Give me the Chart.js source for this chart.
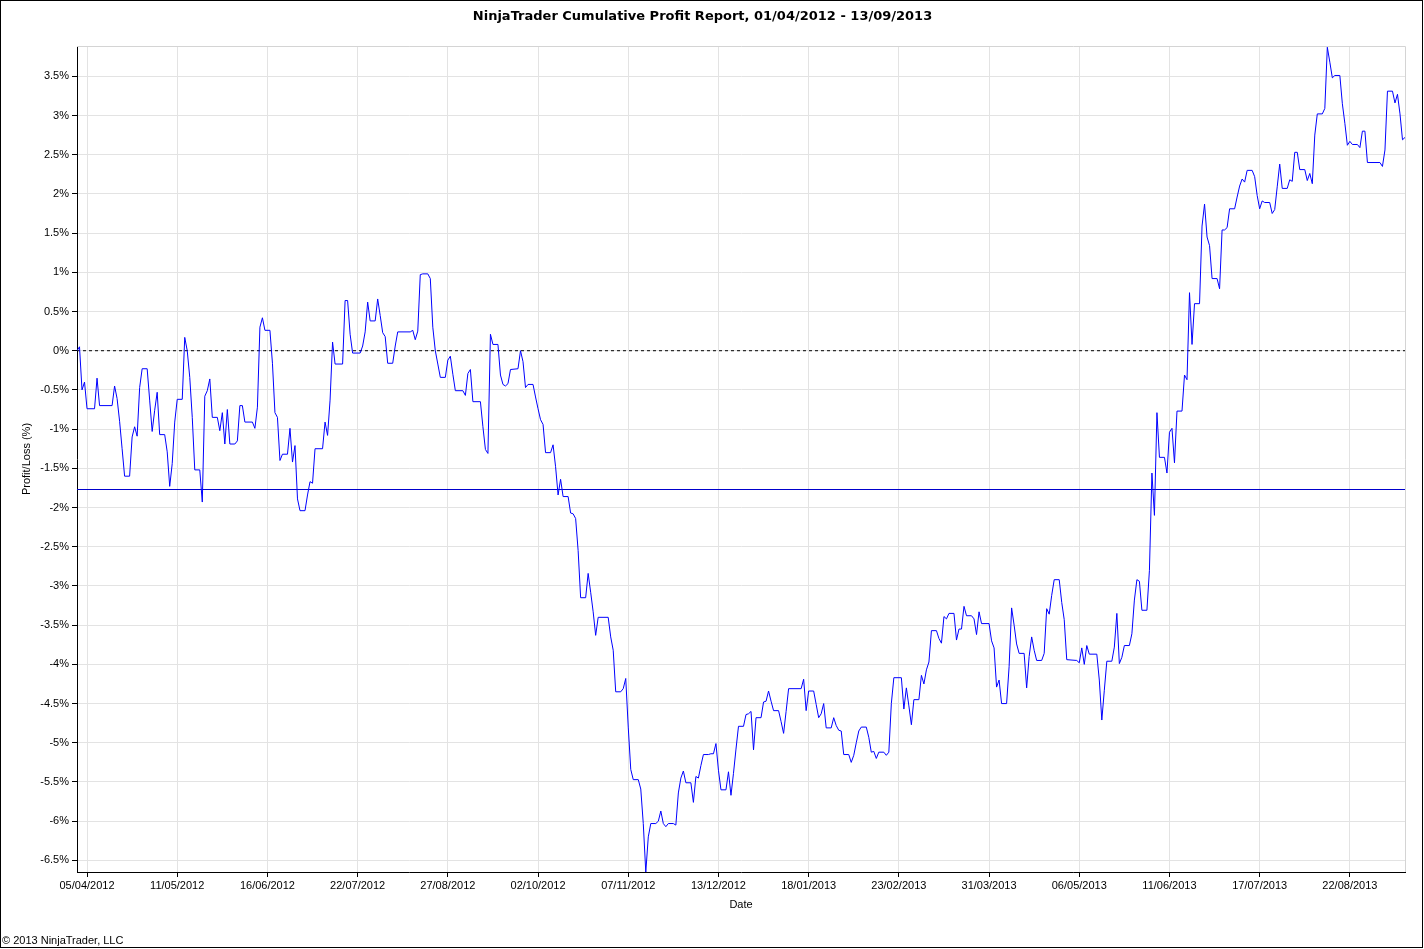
<!DOCTYPE html>
<html>
<head>
<meta charset="utf-8">
<title>NinjaTrader Cumulative Profit Report</title>
<script src="https://cdn.jsdelivr.net/npm/chart.js@4.4.0/dist/chart.umd.min.js"></script>
<style>
  html, body { margin: 0; padding: 0; background: #fff; }
  canvas { display: block; }
</style>
</head>
<body>
<canvas id="profit-chart" width="1424" height="949"></canvas>
<script>
// ==================== DATA ====================
// days since 01/04/2012 and cumulative profit/loss in %
const days = [
  0, 1, 2, 3, 4, 7, 8, 9, 14, 15,
  16, 17, 18, 19, 21, 22, 23, 24, 25, 26,
  28, 29, 30, 31, 32, 33, 35, 36, 37, 38,
  39, 40, 42, 43, 44, 45, 46, 47, 49, 50,
  51, 52, 53, 54, 56, 57, 58, 59, 60, 61,
  63, 64, 65, 66, 67, 70, 71, 72, 73, 74,
  75, 77, 78, 79, 80, 81, 82, 84, 85, 86,
  87, 88, 89, 91, 92, 93, 94, 95, 98, 99,
  100, 101, 102, 103, 106, 107, 108, 109, 110, 113,
  114, 115, 116, 117, 119, 120, 121, 122, 123, 124,
  126, 127, 128, 133, 134, 135, 136, 137, 138, 140,
  141, 142, 143, 144, 145, 147, 148, 149, 150, 151,
  154, 155, 156, 157, 158, 161, 162, 163, 164, 165,
  166, 168, 169, 170, 171, 172, 173, 176, 177, 178,
  179, 180, 182, 183, 184, 185, 186, 187, 189, 190,
  191, 192, 193, 194, 196, 197, 198, 199, 200, 201,
  203, 204, 205, 206, 207, 208, 212, 213, 214, 215,
  217, 218, 219, 220, 221, 222, 224, 225, 226, 227,
  228, 229, 231, 232, 233, 234, 235, 236, 238, 239,
  240, 241, 242, 243, 245, 246, 247, 248, 249, 250,
  252, 253, 254, 255, 256, 257, 259, 260, 261, 262,
  263, 264, 266, 267, 268, 269, 270, 271, 273, 274,
  275, 276, 277, 278, 280, 281, 282, 283, 284, 289,
  290, 291, 292, 294, 295, 296, 297, 298, 299, 301,
  302, 303, 304, 305, 306, 308, 309, 310, 311, 312,
  313, 315, 316, 317, 318, 319, 320, 322, 323, 324,
  325, 326, 329, 330, 331, 332, 333, 334, 336, 337,
  338, 339, 340, 341, 343, 344, 345, 346, 347, 348,
  350, 351, 352, 353, 354, 355, 357, 358, 359, 360,
  361, 364, 365, 366, 367, 368, 369, 371, 372, 373,
  374, 375, 376, 378, 379, 380, 381, 382, 383, 385,
  386, 387, 388, 389, 390, 392, 393, 394, 395, 399,
  400, 401, 402, 403, 404, 407, 408, 409, 410, 411,
  413, 414, 415, 416, 417, 418, 420, 421, 422, 423,
  424, 425, 427, 428, 429, 430, 431, 432, 434, 435,
  436, 437, 438, 439, 441, 442, 443, 444, 445, 446,
  448, 449, 450, 451, 452, 453, 455, 456, 457, 458,
  459, 460, 462, 463, 464, 465, 466, 467, 469, 470,
  471, 472, 473, 474, 476, 477, 478, 479, 480, 481,
  483, 484, 485, 486, 487, 488, 490, 491, 492, 493,
  494, 495, 497, 498, 499, 500, 501, 502, 504, 505,
  506, 507, 508, 509, 511, 512, 513, 514, 515, 520,
  521, 522, 523, 525, 526, 527, 528, 529, 530,
];
const profitPct = [
  0.00, 0.05, -0.50, -0.40, -0.74, -0.74, -0.35, -0.70, -0.70, -0.45,
  -0.61, -0.90, -1.25, -1.60, -1.60, -1.10, -0.97, -1.09, -0.47, -0.23,
  -0.23, -0.63, -1.03, -0.76, -0.53, -1.07, -1.07, -1.29, -1.73, -1.44,
  -0.91, -0.62, -0.62, 0.17, 0.00, -0.34, -0.85, -1.52, -1.52, -1.93,
  -0.58, -0.51, -0.36, -0.85, -0.85, -1.02, -0.79, -1.19, -0.75, -1.19,
  -1.19, -1.15, -0.70, -0.70, -0.91, -0.91, -0.99, -0.72, 0.30, 0.42,
  0.26, 0.26, -0.16, -0.79, -0.85, -1.40, -1.32, -1.32, -0.99, -1.42,
  -1.21, -1.89, -2.04, -2.04, -1.84, -1.67, -1.69, -1.25, -1.25, -0.91,
  -1.08, -0.63, 0.11, -0.17, -0.17, 0.64, 0.64, 0.21, -0.03, -0.03,
  0.06, 0.24, 0.62, 0.38, 0.38, 0.66, 0.45, 0.23, 0.18, -0.16,
  -0.16, 0.06, 0.24, 0.24, 0.26, 0.14, 0.25, 0.97, 0.98, 0.98,
  0.92, 0.30, 0.00, -0.17, -0.34, -0.34, -0.12, -0.07, -0.30, -0.51,
  -0.51, -0.57, -0.29, -0.24, -0.65, -0.65, -0.97, -1.26, -1.31, 0.21,
  0.08, 0.08, -0.31, -0.43, -0.45, -0.42, -0.24, -0.23, 0.00, -0.14,
  -0.47, -0.43, -0.43, -0.59, -0.74, -0.88, -0.94, -1.30, -1.30, -1.20,
  -1.48, -1.84, -1.64, -1.86, -1.86, -2.07, -2.08, -2.14, -2.55, -3.15,
  -3.15, -2.84, -3.08, -3.33, -3.63, -3.40, -3.40, -3.65, -3.82, -4.35,
  -4.35, -4.31, -4.18, -4.80, -5.34, -5.47, -5.47, -5.59, -6.03, -6.65,
  -6.20, -6.03, -6.03, -6.00, -5.87, -6.03, -6.07, -6.03, -6.03, -6.05,
  -5.64, -5.45, -5.36, -5.51, -5.51, -5.76, -5.43, -5.45, -5.29, -5.15,
  -5.15, -5.14, -5.14, -5.01, -5.35, -5.60, -5.60, -5.37, -5.67, -5.39,
  -5.08, -4.79, -4.79, -4.64, -4.63, -4.60, -5.09, -4.68, -4.68, -4.48,
  -4.47, -4.34, -4.47, -4.59, -4.59, -4.73, -4.88, -4.60, -4.31, -4.31,
  -4.19, -4.59, -4.34, -4.34, -4.51, -4.68, -4.63, -4.50, -4.81, -4.81,
  -4.68, -4.78, -4.84, -4.85, -5.15, -5.15, -5.25, -5.16, -5.00, -4.85,
  -4.80, -4.80, -4.93, -5.12, -5.11, -5.20, -5.12, -5.12, -5.16, -5.12,
  -4.50, -4.17, -4.17, -4.57, -4.30, -4.53, -4.77, -4.45, -4.45, -4.14,
  -4.25, -4.07, -3.97, -3.57, -3.57, -3.67, -3.73, -3.39, -3.42, -3.35,
  -3.35, -3.69, -3.55, -3.55, -3.26, -3.38, -3.38, -3.42, -3.62, -3.33,
  -3.48, -3.48, -3.70, -3.79, -4.29, -4.20, -4.50, -4.50, -4.03, -3.28,
  -3.50, -3.74, -3.86, -3.86, -4.30, -3.90, -3.65, -3.82, -3.95, -3.95,
  -3.86, -3.29, -3.36, -3.12, -2.92, -2.92, -3.21, -3.43, -3.94, -3.95,
  -3.98, -3.79, -4.00, -3.76, -3.87, -3.87, -4.20, -4.71, -4.33, -3.96,
  -3.96, -3.78, -3.35, -3.99, -3.91, -3.76, -3.76, -3.61, -3.18, -2.92,
  -2.94, -3.31, -3.31, -2.80, -1.56, -2.10, -0.79, -1.36, -1.36, -1.56,
  -1.04, -0.99, -1.43, -0.77, -0.77, -0.31, -0.37, 0.74, 0.08, 0.60,
  0.60, 1.59, 1.87, 1.45, 1.34, 0.92, 0.92, 0.79, 1.54, 1.54,
  1.57, 1.81, 1.81, 1.96, 2.10, 2.19, 2.15, 2.30, 2.30, 2.22,
  1.98, 1.81, 1.91, 1.89, 1.89, 1.75, 1.80, 2.09, 2.38, 2.07,
  2.07, 2.18, 2.16, 2.53, 2.53, 2.31, 2.31, 2.17, 2.26, 2.13,
  2.75, 3.02, 3.02, 3.09, 3.87, 3.68, 3.48, 3.51, 3.51, 3.15,
  2.90, 2.62, 2.67, 2.63, 2.63, 2.59, 2.80, 2.80, 2.40, 2.40,
  2.35, 2.56, 3.31, 3.31, 3.16, 3.27, 3.02, 2.69, 2.72,
];
const lastDay = 530; // 13/09/2013
const averagePct = -1.77;

const xTickDays = [4, 40, 76, 112, 148, 184, 220, 256, 292, 328, 364, 400, 436, 472, 508];
const xTickLabels = [
  '05/04/2012', '11/05/2012', '16/06/2012', '22/07/2012', '27/08/2012',
  '02/10/2012', '07/11/2012', '13/12/2012', '18/01/2013', '23/02/2013',
  '31/03/2013', '06/05/2013', '11/06/2013', '17/07/2013', '22/08/2013',
];
const yTicks = [-6.5, -6, -5.5, -5, -4.5, -4, -3.5, -3, -2.5, -2, -1.5, -1, -0.5,
  0, 0.5, 1, 1.5, 2, 2.5, 3, 3.5];

// ==================== CHART ====================
const FONT = '"Liberation Sans", Arial, sans-serif';
const TITLE_FONT = '"DejaVu Sans", Verdana, sans-serif';
Chart.defaults.font.family = FONT;
Chart.defaults.font.size = 11;
Chart.defaults.color = '#000';

// outer frame, plot border and footer
const framePlugin = {
  id: 'frame',
  afterDraw(chart) {
    const { ctx, chartArea: a, width, height } = chart;
    ctx.save();
    ctx.lineWidth = 1;
    ctx.strokeStyle = '#d4d4d4';
    ctx.beginPath();
    ctx.moveTo(a.left, a.top + 0.5);
    ctx.lineTo(a.right + 0.5, a.top + 0.5);
    ctx.lineTo(a.right + 0.5, a.bottom);
    ctx.stroke();
    ctx.strokeStyle = '#000';
    ctx.strokeRect(0.5, 0.5, width - 2, height - 2);
    ctx.fillStyle = '#000';
    ctx.font = '11px ' + FONT;
    ctx.textBaseline = 'middle';
    ctx.fillText('\u00a9 2013 NinjaTrader, LLC', 2, 941);
    ctx.restore();
  },
};

const points = days.map((d, i) => ({ x: d, y: profitPct[i] }));
const span = (v) => [{ x: 0, y: v }, { x: lastDay, y: v }];

new Chart(document.getElementById('profit-chart'), {
  type: 'line',
  data: {
    datasets: [
      {
        label: 'Cumulative Profit',
        data: points,
        borderColor: '#0000ff',
        borderWidth: 1,
        pointRadius: 0,
        tension: 0,
      },
      {
        label: 'Zero',
        data: span(0),
        borderColor: '#000',
        borderWidth: 1,
        borderDash: [3, 3],
        pointRadius: 0,
      },
      {
        label: 'Average',
        data: span(averagePct),
        borderColor: '#0000cc',
        borderWidth: 1,
        pointRadius: 0,
      },
    ],
  },
  options: {
    responsive: false,
    devicePixelRatio: 1,
    animation: false,
    layout: { padding: { top: 0, left: 0, right: 19, bottom: 0 } },
    plugins: {
      legend: { display: false },
      tooltip: { enabled: false },
      title: {
        display: true,
        text: 'NinjaTrader Cumulative Profit Report, 01/04/2012 - 13/09/2013',
        font: { size: 13, weight: 'bold', family: TITLE_FONT },
        color: '#000',
        padding: { top: 9, bottom: 21.4 },
      },
    },
    scales: {
      x: {
        type: 'linear',
        min: 0,
        max: lastDay,
        afterBuildTicks: (scale) => {
          scale.ticks = xTickDays.map((v) => ({ value: v }));
        },
        afterFit: (scale) => {
          scale.height = 77;
        },
        ticks: {
          autoSkip: false,
          maxRotation: 0,
          padding: 2,
          callback: (v, i) => xTickLabels[i],
        },
        grid: { color: '#e3e3e3', tickColor: '#000', tickLength: 5 },
        border: { color: '#000', width: 1 },
        title: {
          display: true,
          text: 'Date',
          font: { size: 11, family: FONT },
          padding: { top: 0, bottom: 37.4 },
        },
      },
      y: {
        min: -6.648,
        max: 3.886,
        afterBuildTicks: (scale) => {
          scale.ticks = yTicks.map((v) => ({ value: v }));
        },
        afterFit: (scale) => {
          scale.width = 77;
        },
        ticks: {
          padding: 3,
          callback: (v) => v + '%',
        },
        grid: { color: '#e3e3e3', tickColor: '#000', tickLength: 5 },
        border: { color: '#000', width: 1 },
        title: {
          display: true,
          text: 'Profit/Loss (%)',
          font: { size: 11, family: FONT },
          padding: { top: 20.4, bottom: 0 },
        },
      },
    },
  },
  plugins: [framePlugin],
});
</script>
</body>
</html>
